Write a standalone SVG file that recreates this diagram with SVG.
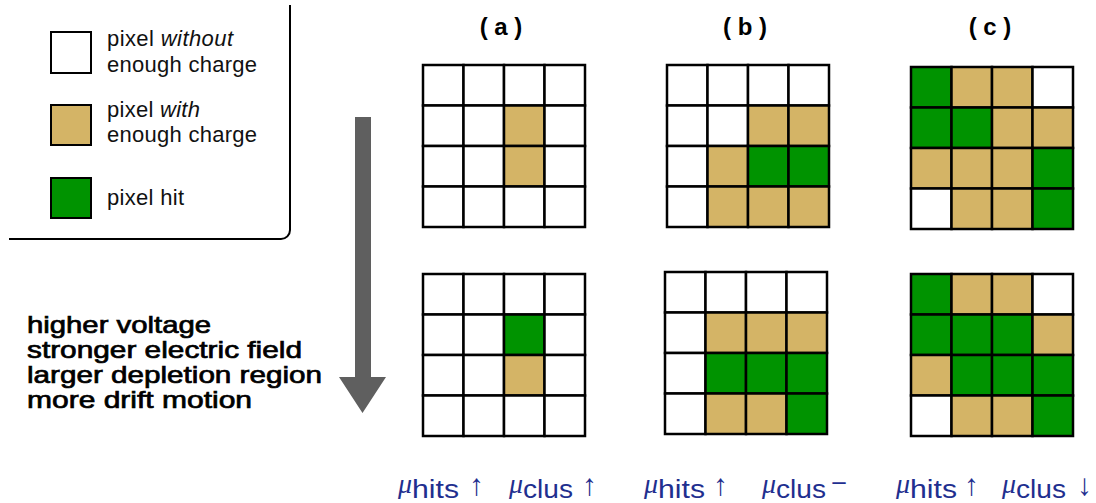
<svg xmlns="http://www.w3.org/2000/svg" width="1096" height="503" viewBox="0 0 1096 503">
<style>
.w{fill:#ffffff}
.t{fill:#d4b466}
.g{fill:#009300}
.cell{stroke:#000;stroke-width:2.5}
.leg{font-family:"Liberation Sans",Arial,sans-serif;font-size:22px;fill:#111}
.side{font-family:"Liberation Sans",Arial,sans-serif;font-size:24px;fill:#000;stroke:#000;stroke-width:0.7}
.hdr{font-family:"Liberation Sans",Arial,sans-serif;font-weight:bold;font-size:24px;fill:#000}
.mu{font-family:"Liberation Serif","DejaVu Serif",serif;font-style:italic;font-size:28px;fill:#1f2f8f}
.sub{font-family:"Liberation Sans",Arial,sans-serif;font-size:26px;fill:#1f2f8f}
.ar{font-family:"Liberation Sans","DejaVu Sans",sans-serif;font-size:30px;fill:#1f2f8f}
</style>
<rect width="1096" height="503" fill="#fff"/>

<g id="legend">
  <path d="M9 239 H281 A9 9 0 0 0 290 230 V5" fill="none" stroke="#000" stroke-width="2"/>
  <rect x="51" y="32" width="40" height="41" class="w" stroke="#000" stroke-width="2"/>
  <rect x="51" y="105" width="40" height="40" class="t" stroke="#000" stroke-width="2"/>
  <rect x="51" y="178" width="40" height="40" class="g" stroke="#000" stroke-width="2"/>
  <text class="leg" x="107" y="46" textLength="126" lengthAdjust="spacing">pixel <tspan font-style="italic">without</tspan></text>
  <text class="leg" x="107" y="72" textLength="150" lengthAdjust="spacing">enough charge</text>
  <text class="leg" x="107" y="117" textLength="93" lengthAdjust="spacing">pixel <tspan font-style="italic">with</tspan></text>
  <text class="leg" x="107" y="142" textLength="150" lengthAdjust="spacing">enough charge</text>
  <text class="leg" x="107" y="205" textLength="77" lengthAdjust="spacing">pixel hit</text>
</g>

<g id="voltage-arrow">
  <polygon points="355,117 371,117 371,377 386,377 362.5,413 339,377 355,377" fill="#5f5f5f"/>
</g>

<g id="voltage-text">
  <text class="side" x="27" y="333" textLength="184" lengthAdjust="spacingAndGlyphs">higher voltage</text>
  <text class="side" x="27" y="358" textLength="275" lengthAdjust="spacingAndGlyphs">stronger electric field</text>
  <text class="side" x="27" y="383" textLength="295" lengthAdjust="spacingAndGlyphs">larger depletion region</text>
  <text class="side" x="27" y="408" textLength="225" lengthAdjust="spacingAndGlyphs">more drift motion</text>
</g>

<g id="headers">
  <text class="hdr" x="501" y="35" text-anchor="middle">( a )</text>
  <text class="hdr" x="745" y="35" text-anchor="middle">( b )</text>
  <text class="hdr" x="990" y="35" text-anchor="middle">( c )</text>
</g>

<g id="grid-a-top" class="cell" transform="translate(423,65)">
  <rect x="0" y="0" width="40.5" height="40.5" class="w"/><rect x="40.5" y="0" width="40.5" height="40.5" class="w"/><rect x="81" y="0" width="40.5" height="40.5" class="w"/><rect x="121.5" y="0" width="40.5" height="40.5" class="w"/>
  <rect x="0" y="40.5" width="40.5" height="40.5" class="w"/><rect x="40.5" y="40.5" width="40.5" height="40.5" class="w"/><rect x="81" y="40.5" width="40.5" height="40.5" class="t"/><rect x="121.5" y="40.5" width="40.5" height="40.5" class="w"/>
  <rect x="0" y="81" width="40.5" height="40.5" class="w"/><rect x="40.5" y="81" width="40.5" height="40.5" class="w"/><rect x="81" y="81" width="40.5" height="40.5" class="t"/><rect x="121.5" y="81" width="40.5" height="40.5" class="w"/>
  <rect x="0" y="121.5" width="40.5" height="40.5" class="w"/><rect x="40.5" y="121.5" width="40.5" height="40.5" class="w"/><rect x="81" y="121.5" width="40.5" height="40.5" class="w"/><rect x="121.5" y="121.5" width="40.5" height="40.5" class="w"/>
</g>

<g id="grid-a-bottom" class="cell" transform="translate(423,274)">
  <rect x="0" y="0" width="40.5" height="40.5" class="w"/><rect x="40.5" y="0" width="40.5" height="40.5" class="w"/><rect x="81" y="0" width="40.5" height="40.5" class="w"/><rect x="121.5" y="0" width="40.5" height="40.5" class="w"/>
  <rect x="0" y="40.5" width="40.5" height="40.5" class="w"/><rect x="40.5" y="40.5" width="40.5" height="40.5" class="w"/><rect x="81" y="40.5" width="40.5" height="40.5" class="g"/><rect x="121.5" y="40.5" width="40.5" height="40.5" class="w"/>
  <rect x="0" y="81" width="40.5" height="40.5" class="w"/><rect x="40.5" y="81" width="40.5" height="40.5" class="w"/><rect x="81" y="81" width="40.5" height="40.5" class="t"/><rect x="121.5" y="81" width="40.5" height="40.5" class="w"/>
  <rect x="0" y="121.5" width="40.5" height="40.5" class="w"/><rect x="40.5" y="121.5" width="40.5" height="40.5" class="w"/><rect x="81" y="121.5" width="40.5" height="40.5" class="w"/><rect x="121.5" y="121.5" width="40.5" height="40.5" class="w"/>
</g>

<g id="grid-b-top" class="cell" transform="translate(667,65)">
  <rect x="0" y="0" width="40.5" height="40.5" class="w"/><rect x="40.5" y="0" width="40.5" height="40.5" class="w"/><rect x="81" y="0" width="40.5" height="40.5" class="w"/><rect x="121.5" y="0" width="40.5" height="40.5" class="w"/>
  <rect x="0" y="40.5" width="40.5" height="40.5" class="w"/><rect x="40.5" y="40.5" width="40.5" height="40.5" class="w"/><rect x="81" y="40.5" width="40.5" height="40.5" class="t"/><rect x="121.5" y="40.5" width="40.5" height="40.5" class="t"/>
  <rect x="0" y="81" width="40.5" height="40.5" class="w"/><rect x="40.5" y="81" width="40.5" height="40.5" class="t"/><rect x="81" y="81" width="40.5" height="40.5" class="g"/><rect x="121.5" y="81" width="40.5" height="40.5" class="g"/>
  <rect x="0" y="121.5" width="40.5" height="40.5" class="w"/><rect x="40.5" y="121.5" width="40.5" height="40.5" class="t"/><rect x="81" y="121.5" width="40.5" height="40.5" class="t"/><rect x="121.5" y="121.5" width="40.5" height="40.5" class="t"/>
</g>

<g id="grid-b-bottom" class="cell" transform="translate(665,272)">
  <rect x="0" y="0" width="40.5" height="40.5" class="w"/><rect x="40.5" y="0" width="40.5" height="40.5" class="w"/><rect x="81" y="0" width="40.5" height="40.5" class="w"/><rect x="121.5" y="0" width="40.5" height="40.5" class="w"/>
  <rect x="0" y="40.5" width="40.5" height="40.5" class="w"/><rect x="40.5" y="40.5" width="40.5" height="40.5" class="t"/><rect x="81" y="40.5" width="40.5" height="40.5" class="t"/><rect x="121.5" y="40.5" width="40.5" height="40.5" class="t"/>
  <rect x="0" y="81" width="40.5" height="40.5" class="w"/><rect x="40.5" y="81" width="40.5" height="40.5" class="g"/><rect x="81" y="81" width="40.5" height="40.5" class="g"/><rect x="121.5" y="81" width="40.5" height="40.5" class="g"/>
  <rect x="0" y="121.5" width="40.5" height="40.5" class="w"/><rect x="40.5" y="121.5" width="40.5" height="40.5" class="t"/><rect x="81" y="121.5" width="40.5" height="40.5" class="t"/><rect x="121.5" y="121.5" width="40.5" height="40.5" class="g"/>
</g>

<g id="grid-c-top" class="cell" transform="translate(911,67)">
  <rect x="0" y="0" width="40.5" height="40.5" class="g"/><rect x="40.5" y="0" width="40.5" height="40.5" class="t"/><rect x="81" y="0" width="40.5" height="40.5" class="t"/><rect x="121.5" y="0" width="40.5" height="40.5" class="w"/>
  <rect x="0" y="40.5" width="40.5" height="40.5" class="g"/><rect x="40.5" y="40.5" width="40.5" height="40.5" class="g"/><rect x="81" y="40.5" width="40.5" height="40.5" class="t"/><rect x="121.5" y="40.5" width="40.5" height="40.5" class="t"/>
  <rect x="0" y="81" width="40.5" height="40.5" class="t"/><rect x="40.5" y="81" width="40.5" height="40.5" class="t"/><rect x="81" y="81" width="40.5" height="40.5" class="t"/><rect x="121.5" y="81" width="40.5" height="40.5" class="g"/>
  <rect x="0" y="121.5" width="40.5" height="40.5" class="w"/><rect x="40.5" y="121.5" width="40.5" height="40.5" class="t"/><rect x="81" y="121.5" width="40.5" height="40.5" class="t"/><rect x="121.5" y="121.5" width="40.5" height="40.5" class="g"/>
</g>

<g id="grid-c-bottom" class="cell" transform="translate(911,274)">
  <rect x="0" y="0" width="40.5" height="40.5" class="g"/><rect x="40.5" y="0" width="40.5" height="40.5" class="t"/><rect x="81" y="0" width="40.5" height="40.5" class="t"/><rect x="121.5" y="0" width="40.5" height="40.5" class="w"/>
  <rect x="0" y="40.5" width="40.5" height="40.5" class="g"/><rect x="40.5" y="40.5" width="40.5" height="40.5" class="g"/><rect x="81" y="40.5" width="40.5" height="40.5" class="g"/><rect x="121.5" y="40.5" width="40.5" height="40.5" class="t"/>
  <rect x="0" y="81" width="40.5" height="40.5" class="t"/><rect x="40.5" y="81" width="40.5" height="40.5" class="g"/><rect x="81" y="81" width="40.5" height="40.5" class="g"/><rect x="121.5" y="81" width="40.5" height="40.5" class="g"/>
  <rect x="0" y="121.5" width="40.5" height="40.5" class="w"/><rect x="40.5" y="121.5" width="40.5" height="40.5" class="t"/><rect x="81" y="121.5" width="40.5" height="40.5" class="t"/><rect x="121.5" y="121.5" width="40.5" height="40.5" class="g"/>
</g>

<g id="labels">
  <text class="mu" x="398" y="493">μ</text><text class="sub" x="412" y="498" textLength="47" lengthAdjust="spacingAndGlyphs">hits</text><text class="ar" x="469" y="495">↑</text>
  <text class="mu" x="509" y="493">μ</text><text class="sub" x="523" y="498" textLength="50" lengthAdjust="spacingAndGlyphs">clus</text><text class="ar" x="582" y="495">↑</text>
  <text class="mu" x="644" y="493">μ</text><text class="sub" x="658" y="498" textLength="47" lengthAdjust="spacingAndGlyphs">hits</text><text class="ar" x="713" y="495">↑</text>
  <text class="mu" x="762" y="493">μ</text><text class="sub" x="776" y="498" textLength="50" lengthAdjust="spacingAndGlyphs">clus</text><text class="sub" x="831" y="492" textLength="16" lengthAdjust="spacingAndGlyphs">−</text>
  <text class="mu" x="896" y="493">μ</text><text class="sub" x="910" y="498" textLength="47" lengthAdjust="spacingAndGlyphs">hits</text><text class="ar" x="964" y="495">↑</text>
  <text class="mu" x="1002" y="493">μ</text><text class="sub" x="1016" y="498" textLength="50" lengthAdjust="spacingAndGlyphs">clus</text><text class="ar" x="1077" y="495">↓</text>
</g>
</svg>
